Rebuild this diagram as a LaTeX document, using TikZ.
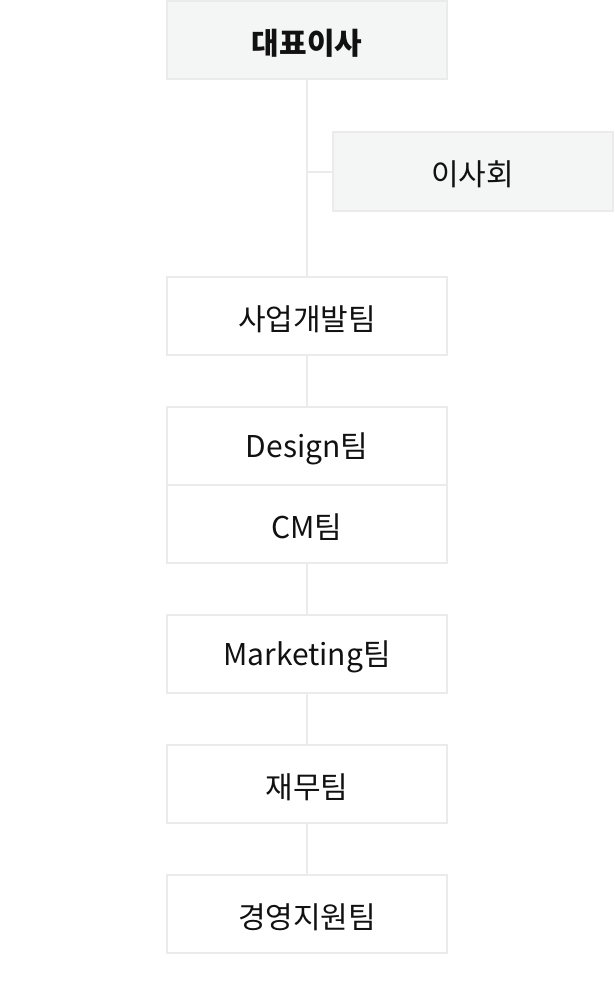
\documentclass[tikz,border=0pt]{standalone}
\usepackage{fontspec}
\setmainfont{Noto Sans CJK KR}
\definecolor{boxline}{HTML}{EBEBEB}
\definecolor{boxfill}{HTML}{F4F5F5}
\definecolor{textcol}{HTML}{111111}
\newcommand\boxtext[1]{\raisebox{-3pt}[\height][\depth]{#1}}
\tikzset{
  team/.style={draw=boxline, line width=2pt, fill=white, minimum width=280pt,
    minimum height=78pt, inner sep=0pt, text=textcol, font=\fontsize{30}{33}\selectfont},
  head/.style={team, fill=boxfill},
  link/.style={draw=boxline, line width=2pt}
}
\begin{document}
\begin{tikzpicture}[x=1pt,y=-1pt]
\useasboundingbox (0,0) rectangle (614,1006);
% boxes
\node[head, font=\fontsize{30}{33}\selectfont\bfseries] (ceo) at (307,40) {\boxtext{대표이사}};
\node[head] (board) at (472.5,171.5) {\boxtext{이사회}};
\node[team] (bizdev) at (307,316) {\boxtext{사업개발팀}};
\node[team] (design) at (307,446) {\boxtext{Design팀}};
\node[team] (cm) at (307,524) {\boxtext{CM팀}};
\node[team] (mkt) at (307,654) {\boxtext{Marketing팀}};
\node[team] (fin) at (307,784) {\boxtext{재무팀}};
\node[team] (mgmt) at (307,914) {\boxtext{경영지원팀}};
% lines
\coordinate (jn) at (ceo.south |- board.west);
\begin{scope}[on background layer/.try]
\draw[link] (ceo.south) -- (bizdev.north);
\draw[link] (jn) -- (board.west);
\draw[link] (bizdev.south) -- (design.north);
\draw[link] (cm.south) -- (mkt.north);
\draw[link] (mkt.south) -- (fin.north);
\draw[link] (fin.south) -- (mgmt.north);
\end{scope}
\end{tikzpicture}
\end{document}
